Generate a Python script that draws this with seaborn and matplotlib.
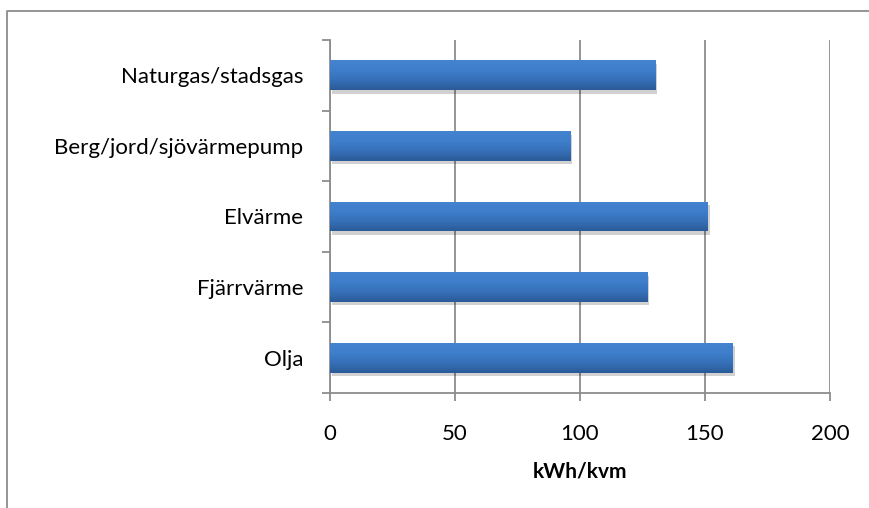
import numpy as np
import pandas as pd
import matplotlib
matplotlib.use("Agg")
import matplotlib.pyplot as plt
import matplotlib.patheffects as pe
from matplotlib.colors import LinearSegmentedColormap
from matplotlib.lines import Line2D
import seaborn as sns

categories = ["Naturgas/stadsgas", "Berg/jord/sjövärmepump", "Elvärme", "Fjärrvärme", "Olja"]
values = [130, 96, 151, 127, 161]
x_ticks = [0, 50, 100, 150, 200]
x_label = "kWh/kvm"

df = pd.DataFrame({"kategori": categories, "varde": values})

sns.set_theme(style="white")
plt.rcParams["font.family"] = ["Lato", "DejaVu Sans"]

W, H = 869, 508
fig = plt.figure(figsize=(W / 100, H / 100), dpi=100)
ax = fig.add_axes([329.7 / W, 1 - 393 / H, (830 - 329.7) / W, (393 - 40) / H])

sns.barplot(data=df, y="kategori", x="varde", orient="h", color="#3A72BA",
            width=0.42, ax=ax, zorder=3)

# vertical gradient fill on each bar, with a soft drop shadow
grad = LinearSegmentedColormap.from_list("bar", ["#2B5A97", "#3670B8", "#3E7ECB", "#4383D0"])
gimg = np.linspace(0, 1, 256).reshape(-1, 1)
for p in ax.patches:
    p.set_edgecolor("none")
    p.set_path_effects([pe.SimplePatchShadow(offset=(1.5, -2.5), shadow_rgbFace="#000000",
                                             alpha=0.18), pe.Normal()])
    x0, y0 = p.get_x(), p.get_y()
    w, h = p.get_width(), p.get_height()
    im = ax.imshow(gimg, cmap=grad, aspect="auto", origin="upper",
                   extent=[x0, x0 + w, y0, y0 + h], zorder=4)
    im.set_clip_path(p)

ax.set_xlim(0, 200)
ax.set_ylim(len(categories) - 0.5, -0.5)
ax.set_xticks(x_ticks)
ax.set_xticklabels([str(t) for t in x_ticks])
ax.set_yticks(np.arange(len(categories)))
ax.set_yticklabels(categories)
ax.set_yticks(np.arange(-0.5, len(categories)), minor=True)

ax.grid(axis="x", color="#8C8C8C", linewidth=1.3, zorder=0)
ax.grid(axis="y", visible=False)
ax.set_axisbelow(True)

for s in ["top", "right"]:
    ax.spines[s].set_visible(False)
for s in ["left", "bottom"]:
    ax.spines[s].set_color("#8C8C8C")
    ax.spines[s].set_linewidth(1.3)

ax.tick_params(axis="x", which="major", direction="out", length=6, width=1.3,
               color="#8C8C8C", labelsize=16, labelcolor="#000000", pad=16, bottom=True)
ax.tick_params(axis="y", which="major", length=0, labelsize=16, labelcolor="#000000", pad=19)
ax.tick_params(axis="y", which="minor", direction="out", length=6, width=1.3,
               color="#8C8C8C", left=True)

ax.set_ylabel("")
ax.set_xlabel(x_label, fontsize=15, fontweight="bold", color="#000000", labelpad=13)

# chart-area border (top and left edges)
fig.add_artist(Line2D([6.5 / W, 6.5 / W, 1.0], [0.0, 1 - 10.5 / H, 1 - 10.5 / H],
                      transform=fig.transFigure, color="#8C8C8C", linewidth=1.3))

fig.savefig("out.png", dpi=100, facecolor="white")
